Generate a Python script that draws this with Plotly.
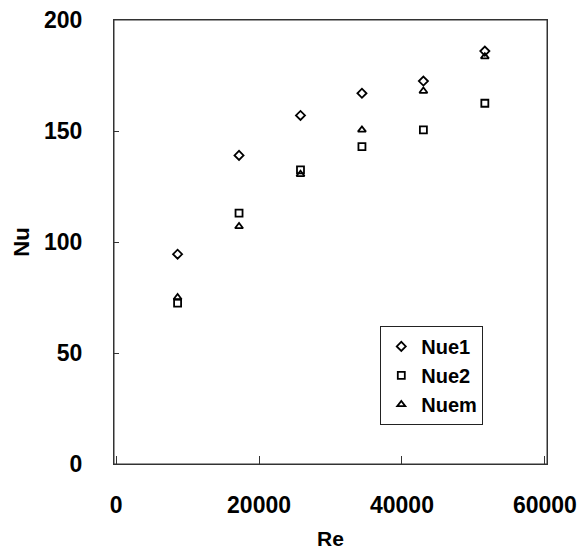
import plotly.graph_objects as go

re_vals = [8600, 17200, 25800, 34400, 43000, 51600]
nue1 = [94.5, 139, 157, 167, 172.5, 186]
nue2 = [72.5, 113, 132.5, 143, 150.5, 162.5]
nuem = [75, 107, 130.5, 150.5, 168, 183.5]

x_ticks = [0, 20000, 40000, 60000]
y_ticks = [0, 50, 100, 150, 200]

FONT = "Liberation Sans, Arial, sans-serif"

fig = go.Figure()
series = [("Nue1", nue1, "diamond-open", 7),
          ("Nue2", nue2, "square-open", 7),
          ("Nuem", nuem, "triangle-up-open", 7)]
for name, ys, sym, sz in series:
    fig.add_trace(go.Scatter(
        x=re_vals, y=ys, mode="markers", name=name,
        marker=dict(symbol=sym, size=sz, color="black",
                    line=dict(color="black", width=1.8)),
    ))

# plot frame
fig.add_shape(type="rect", xref="paper", yref="paper", x0=0, y0=0, x1=1, y1=1,
              line=dict(color="#333", width=1), layer="above")

fig.update_layout(
    width=579, height=554,
    margin=dict(l=114, r=32, t=20, b=90),
    paper_bgcolor="white", plot_bgcolor="white",
    font=dict(family=FONT, size=23, color="black", weight="bold"),
    showlegend=True,
    legend=dict(x=0.615, y=0.311, xanchor="left", yanchor="top",
                bgcolor="white", bordercolor="#222", borderwidth=1,
                font=dict(size=20, color="black", weight="bold"),
                tracegroupgap=0, itemsizing="trace"),
    xaxis=dict(range=[-300, 60300], tickvals=x_ticks,
               ticktext=[str(v) for v in x_ticks],
               showgrid=False, zeroline=False, automargin=False,
               showline=True, linecolor="#333", linewidth=1, mirror=True,
               ticks="inside", ticklen=8, tickcolor="#333",
               ticklabelstandoff=20, ticklabeloverflow="allow",
               title=dict(text="Re", standoff=14, font=dict(size=21, weight="bold"))),
    yaxis=dict(range=[0, 200], tickvals=y_ticks,
               ticktext=[str(v) for v in y_ticks],
               showgrid=False, zeroline=False, automargin=False,
               showline=True, linecolor="#333", linewidth=1, mirror=True,
               ticks="inside", ticklen=5, tickcolor="#333",
               ticklabelstandoff=26, ticklabeloverflow="allow",
               title=dict(text="Nu", standoff=8, font=dict(size=22, weight="bold"))),
)

# remove the page's default 8px body margin so the figure fills the window
fig.write_html("out.html", config={"displayModeBar": False},
               post_script="document.body.style.margin='0';")
